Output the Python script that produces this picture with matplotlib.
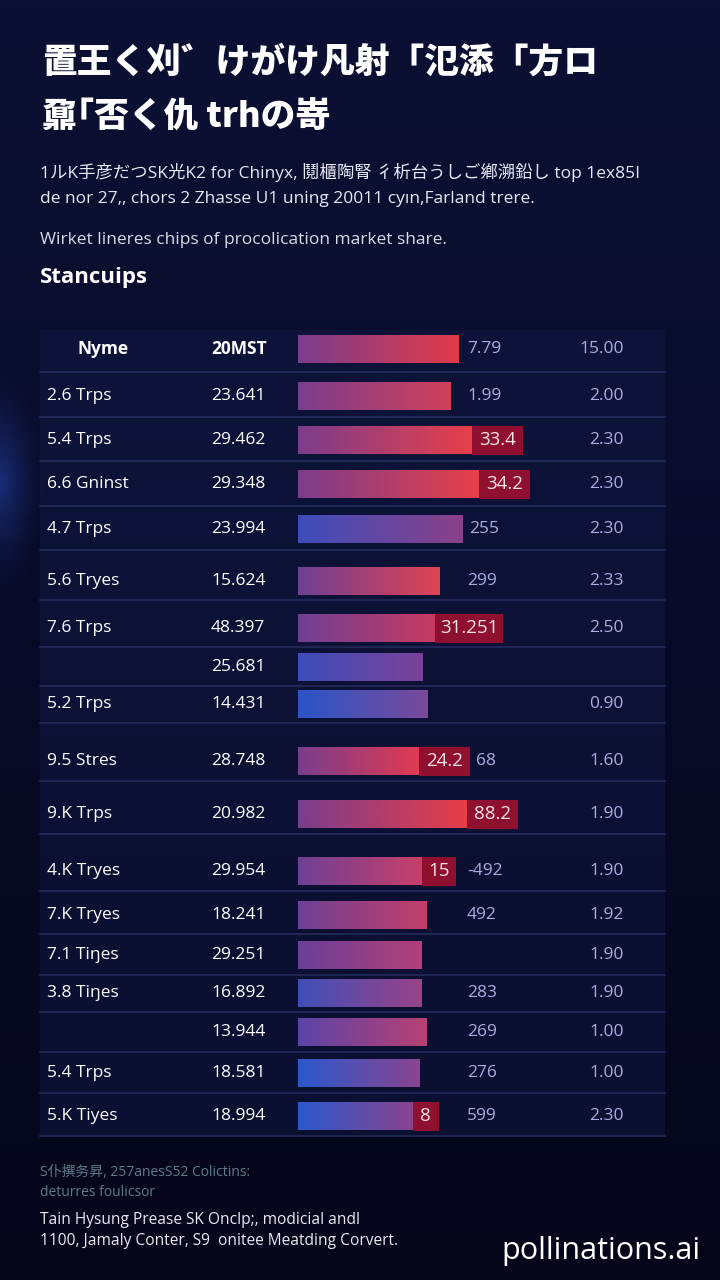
import numpy as np
import matplotlib
matplotlib.use("Agg")
import matplotlib.pyplot as plt
from matplotlib.colors import LinearSegmentedColormap, to_rgb
from matplotlib.patches import Rectangle

plt.rcParams["font.family"] = ["Open Sans", "Noto Sans CJK JP", "DejaVu Sans"]

# ---- data -------------------------------------------------------------
title_lines = ["置王く刈゛けがけ凡射「氾添「方ロ", "鼐｢否く仇 trhの嵜"]
subtitle_lines = [
    "1ルK手彦だつSK光K2 for Chinyx, 鬩櫃陶腎 彳析台うしご鄕溯鉛し top 1ex85I",
    "de nor 27,‚ chors 2 Zhasse U1 uning 20011 cyın,Farland trere.",
]
note_line = "Wirket lineres chips of procolication market share."
section_title = "Stancuips"

header = ["Nyme", "20MST"]
names = ["2.6 Trps", "5.4 Trps", "6.6 Gninst", "4.7 Trps", "5.6 Tryes",
         "7.6 Trps", "", "5.2 Trps", "9.5 Stres", "9.K Trps", "4.K Tryes",
         "7.K Tryes", "7.1 Tiŋes", "3.8 Tiŋes", "", "5.4 Trps", "5.K Tiyes"]
counts = ["23.641", "29.462", "29.348", "23.994", "15.624", "48.397",
          "25.681", "14.431", "28.748", "20.982", "29.954", "18.241",
          "29.251", "16.892", "13.944", "18.581", "18.994"]
# bar share (header bar first)
shares = [64.4, 61.2, 69.6, 72.4, 66.0, 56.8, 54.8, 50.0, 52.0, 48.4, 67.6,
          49.6, 51.6, 49.6, 49.6, 51.6, 48.8, 46.0]
tags = ["", "", "33.4", "34.2", "", "", "31.251", "", "", "24.2", "88.2",
        "15", "", "", "", "", "", "8"]
values = ["7.79", "1.99", "", "", "255", "299", "", "", "", "68", "", "-492",
          "492", "", "283", "269", "276", "599"]
ratios = ["15.00", "2.00", "2.30", "2.30", "2.30", "2.33", "2.50", "", "0.90",
          "1.60", "1.90", "1.90", "1.92", "1.90", "1.90", "1.00", "1.00", "2.30"]

footer_notes = ["S仆撰务昇, 257anesS52 Colictins:", "deturres foulicsor"]
footer_lines = ["Tain Hysung Prease SK Onclp;, modicial andl",
                "1100, Jamaly Conter, S9  onitee Meatding Corvert."]
brand = "pollinations.ai"

# ---- layout / style ---------------------------------------------------
W, H = 720, 1280
row_y = [349, 396, 440, 484, 529, 581, 628, 667, 704, 761, 814, 871, 915,
         955, 993, 1032, 1073, 1116]
dividers = [372, 417, 461, 506, 550, 600, 647, 686, 723, 781, 834, 891, 934,
            975, 1012, 1052, 1093, 1136]
bar_colors = [
    ("#7a3d8e", "#e23a48"), ("#7a3d8e", "#d2405a"), ("#7b3c8c", "#e8404a"),
    ("#7b3c8c", "#e8404a"), ("#3d4dbb", "#8a4088"), ("#6f3f95", "#e04352"),
    ("#6e3f95", "#c83a60"), ("#3d4dbb", "#7a4298"), ("#2a55c8", "#7a4a9a"),
    ("#7a3d8e", "#e03a50"), ("#7a3d8e", "#e83d48"), ("#6e3f95", "#c8406a"),
    ("#6e3f95", "#c2406a"), ("#6a3f98", "#b23f78"), ("#3f4fb8", "#9a4288"),
    ("#5a44a8", "#b84072"), ("#2a58cc", "#8a4490"), ("#2a58cc", "#8a4490"),
]
BAR_X0, BAR_W = 298, 250      # pixel span for 0..100 share
PX = BAR_W / 100.0
BAR_H = 29
TAG_COLOR = "#8e0f2e"
VAL_COLOR = "#a9aee2"
FS = 12.5

fig = plt.figure(figsize=(W / 100, H / 100), dpi=100)
ax = fig.add_axes([0, 0, 1, 1])
ax.set_xlim(0, W)
ax.set_ylim(H, 0)
ax.axis("off")

# background gradient
grad = np.linspace(0, 1, 256)[:, None]
bg = LinearSegmentedColormap.from_list("bg", ["#0c1034", "#080b27", "#05061a"])
ax.imshow(grad, cmap=bg, extent=[0, W, H, 0], aspect="auto", zorder=0)

# blue glow on the left edge
yy, xx = np.mgrid[0:H:4, 0:W:4]
d = np.sqrt(((xx - 0) / 45.0) ** 2 + ((yy - 480) / 120.0) ** 2)
glow = np.clip(1 - d, 0, 1) ** 1.5
glow_rgba = np.zeros(glow.shape + (4,))
glow_rgba[..., :3] = to_rgb("#2a4cc0")
glow_rgba[..., 3] = glow * 0.5
ax.imshow(glow_rgba, extent=[0, W, H, 0], aspect="auto", zorder=1)

# table panel
ax.add_patch(Rectangle((40, 330), 625, 807, facecolor="#111845", alpha=0.5,
                       edgecolor="none", zorder=2))
for y in dividers:
    ax.plot([40, 665], [y, y], color="#262d5e", lw=1.1, zorder=3)

# titles
for i, line in enumerate(title_lines):
    ax.text(42, 62 + i * 55, line, color="white", fontsize=25, fontweight="heavy",
            va="center", ha="left", family=["Noto Sans CJK JP", "DejaVu Sans"],
            zorder=5)
for i, line in enumerate(subtitle_lines):
    ax.text(40, 172 + i * 27, line, color="#e6e8f2", fontsize=12.5,
            va="center", ha="left", zorder=5)
ax.text(40, 240, note_line, color="#d8dbe8", fontsize=12.5, va="center", zorder=5)
ax.text(40, 277, section_title, color="white", fontsize=16, fontweight="bold",
        va="center", zorder=5)

# table text
ax.text(103, row_y[0], header[0], color="white", fontsize=FS,
        fontweight="bold", ha="center", va="center", zorder=5)
ax.text(211, row_y[0], header[1], color="white", fontsize=FS,
        fontweight="bold", ha="left", va="center", zorder=5)
for y, name, cnt in zip(row_y[1:], names, counts):
    ax.text(47, y, name, color="white", fontsize=FS, va="center", zorder=5)
    ax.text(211, y, cnt, color="white", fontsize=FS, va="center", zorder=5)
for y, r in zip(row_y, ratios):
    ax.text(624, y, r, color=VAL_COLOR, fontsize=FS, ha="right",
            va="center", zorder=5)

# bars on their own axes (share 0..100)
bx = fig.add_axes([BAR_X0 / W, 0, BAR_W / W, 1])
bx.set_xlim(0, 100)
bx.set_ylim(H, 0)
bx.axis("off")
bx.patch.set_alpha(0)

row_grad = np.linspace(0, 1, 200)[None, :]
for y, s, tag, val, (c0, c1) in zip(row_y, shares, tags, values, bar_colors):
    bar = bx.barh(y, s, height=BAR_H, left=0, color="none", zorder=3)[0]
    cmap = LinearSegmentedColormap.from_list("b", [c0, c1])
    im = bx.imshow(row_grad, cmap=cmap, aspect="auto", zorder=3,
                   extent=[0, s, y + BAR_H / 2, y - BAR_H / 2])
    im.set_clip_path(bar)
    end = s
    if tag:
        tw = (8.5 * len(tag) + 17) / PX
        bx.barh(y, tw, height=BAR_H, left=s, color=TAG_COLOR, zorder=4)
        bx.text(s + tw / 2, y, tag, color="#f7e3e8", fontsize=13.5,
                ha="center", va="center", zorder=5)
        end = s + tw
    if val:
        vx = max((467 - BAR_X0) / PX, end + 6 / PX)
        bx.text(vx, y, val, color=VAL_COLOR, fontsize=FS, ha="left",
                va="center", zorder=5)

# footer
for i, line in enumerate(footer_notes):
    ax.text(40, 1172 + i * 20, line, color="#5d7c8c", fontsize=10,
            va="center", zorder=5)
for i, line in enumerate(footer_lines):
    ax.text(40, 1220 + i * 21, line, color="#e8eaf2", fontsize=11.2,
            va="center", zorder=5)
ax.text(700, 1251, brand, color="white", fontsize=22, ha="right",
        va="center", zorder=5)

fig.savefig("out.png", dpi=100)
